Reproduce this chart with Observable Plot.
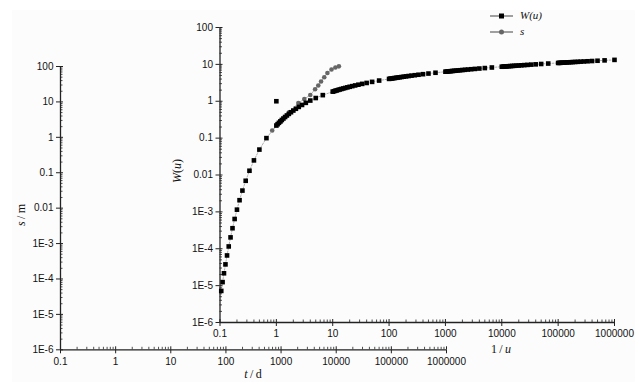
<!DOCTYPE html>
<html><head><meta charset="utf-8">
<script src="https://cdn.jsdelivr.net/npm/d3@7"></script>
<script src="https://cdn.jsdelivr.net/npm/@observablehq/plot@0.6"></script>
<style>
body{margin:0;background:#fff;}
#wrap{position:relative;width:639px;height:384px;overflow:hidden;background:#fff;}
#panel{position:absolute;left:12px;top:10px;width:623px;height:372px;background:#fcfcfc;}
#wrap svg.plot{position:absolute;left:0;top:0;background:transparent;}
.t{position:absolute;font-family:"Liberation Serif","DejaVu Serif",serif;font-size:12px;color:#111;white-space:nowrap;transform:translate(-50%,-50%);}
.lg{position:absolute;font-family:"Liberation Serif","DejaVu Serif",serif;font-size:11px;font-style:italic;color:#111;white-space:nowrap;}
</style></head><body><div id="wrap"><div id="panel"></div></div>
<script>
// ---- W(u) type curve (inner axes: 1/u vs W(u)) ----
const uValues = [
  9.5,9,8.5,8,7.5,7,6.5,6,5.5,5,4.5,4,3.5,3,2.5,2,1.5,1,
  0.95,0.9,0.85,0.8,0.75,0.7,0.65,0.6,0.55,0.5,0.45,0.4,0.35,0.3,0.25,0.2,0.15,0.1,
  0.095,0.09,0.085,0.08,0.075,0.07,0.065,0.06,0.055,0.05,0.045,0.04,0.035,0.03,0.025,0.02,0.015,0.01,
  0.0095,0.009,0.0085,0.008,0.0075,0.007,0.0065,0.006,0.0055,0.005,0.0045,0.004,0.0035,0.003,0.0025,0.002,0.0015,0.001,
  9.5e-4,9e-4,8.5e-4,8e-4,7.5e-4,7e-4,6.5e-4,6e-4,5.5e-4,5e-4,4.5e-4,4e-4,3.5e-4,3e-4,2.5e-4,2e-4,1.5e-4,1e-4,
  9.5e-5,9e-5,8.5e-5,8e-5,7.5e-5,7e-5,6.5e-5,6e-5,5.5e-5,5e-5,4.5e-5,4e-5,3.5e-5,3e-5,2.5e-5,2e-5,1.5e-5,1e-5,
  9.5e-6,9e-6,8.5e-6,8e-6,7.5e-6,7e-6,6.5e-6,6e-6,5.5e-6,5e-6,4.5e-6,4e-6,3.5e-6,3e-6,2.5e-6,2e-6,1.5e-6,1e-6
];
const wValues = [
  7.185e-6,1.245e-5,2.162e-5,3.767e-5,6.583e-5,1.155e-4,2.034e-4,3.601e-4,6.409e-4,1.148e-3,2.073e-3,3.779e-3,6.970e-3,1.305e-2,2.491e-2,4.890e-2,0.1000,0.2194,
  0.2387,0.2602,0.2840,0.3106,0.3403,0.3738,0.4115,0.4544,0.5034,0.5598,0.6253,0.7024,0.7942,0.9057,1.0443,1.2227,1.4645,1.8229,
  1.8694,1.9187,1.9711,2.0269,2.0867,2.1508,2.2201,2.2953,2.3775,2.4679,2.5684,2.6813,2.8099,2.9591,3.1365,3.3547,3.6374,4.0379,
  4.0887,4.1423,4.1990,4.2591,4.3231,4.3916,4.4652,4.5448,4.6313,4.7261,4.8309,4.9482,5.0813,5.2349,5.4167,5.6394,5.9266,6.3315,
  6.3818,6.4359,6.4931,6.5537,6.6182,6.6872,6.7613,6.8414,6.9284,7.0237,7.1290,7.2468,7.3804,7.5345,7.7168,7.9400,8.2277,8.6332,
  8.6845,8.7386,8.7957,8.8563,8.9208,8.9898,9.0639,9.1440,9.2310,9.3263,9.4317,9.5495,9.6830,9.8371,10.0194,10.2426,10.5303,10.9357,
  10.9871,11.0411,11.0982,11.1589,11.2234,11.2924,11.3665,11.4465,11.5336,11.6289,11.7342,11.8520,11.9855,12.1397,12.3220,12.5451,12.8329,13.2383
];
// stray point in W(u) series
const strayInvU = [1];
const strayW = [1];

// ---- observed drawdown (outer axes: t/d vs s/m) ----
const sTime = [690, 990, 1400, 2060, 2640, 3390, 4140, 4730, 5310, 6070, 6930, 8220, 9670, 11190];
const sDraw = [1.56, 2.79, 5.12, 9.3, 12.1, 15.7, 22.7, 29.0, 37.7, 49.5, 65.5, 82.2, 93.7, 101];

// ---- ticks ----
const yTicks = [1e-6,1e-5,1e-4,1e-3,0.01,0.1,1,10,100];
const yTickLabels = ["1E-6","1E-5","1E-4","1E-3","0.01","0.1","1","10","100"];
const xTicks = [0.1,1,10,100,1000,10000,100000,1000000];
const xTickLabels = ["0.1","1","10","100","1000","10000","100000","1000000"];

const minor = (majors) => majors.slice(0,-1).flatMap(d => [2,3,4,5,6,7,8,9].map(k => k*d));
const yMinor = minor(yTicks), xMinor = minor(xTicks);

const wData = uValues.map((u,i) => ({inv: 1/u, w: wValues[i]}));
const strayData = strayInvU.map((x,i) => ({inv: x, w: strayW[i]}));
const sData = sTime.map((t,i) => ({t, s: sDraw[i]}));

const axisColor = "#222";
const font = "Liberation Sans, Arial, sans-serif";

function axes(pad) {
  return [
    Plot.axisY(yTicks, {anchor:"left", tickSize:4, tickPadding:3, stroke:axisColor, fill:"#111",
      tickFormat: d => yTickLabels[yTicks.indexOf(d)], fontSize:10, fontFamily:font, label:null}),
    Plot.axisY(yTicks, {anchor:"left", tickSize:3, dx:3, stroke:axisColor, tickFormat: () => "", label:null}),
    Plot.axisY(yMinor, {anchor:"left", tickSize:2.5, dx:2.5, stroke:axisColor, strokeWidth:0.8, tickFormat: () => "", label:null}),
    Plot.axisX(xTicks, {anchor:"bottom", tickSize:4, tickPadding:pad, stroke:axisColor, fill:"#111",
      tickFormat: d => xTickLabels[xTicks.indexOf(d)], fontSize:10, fontFamily:font, label:null}),
    Plot.axisX(xTicks, {anchor:"bottom", tickSize:3, dy:-3, stroke:axisColor, tickFormat: () => "", label:null}),
    Plot.axisX(xMinor, {anchor:"bottom", tickSize:2.5, dy:-2.5, stroke:axisColor, strokeWidth:0.8, tickFormat: () => "", label:null}),
    Plot.ruleX([0.1], {stroke:axisColor, strokeWidth:1.3}),
    Plot.ruleY([1e-6], {stroke:axisColor, strokeWidth:1.3})
  ];
}

const outer = Plot.plot({
  width: 639, height: 384,
  marginLeft: 60, marginRight: 193, marginTop: 66, marginBottom: 34.7,
  x: {type:"log", domain:[0.1, 1e6]},
  y: {type:"log", domain:[1e-6, 100]},
  style: {background:"transparent", overflow:"visible"},
  marks: [
    ...axes(4),
    Plot.line(sData, {x:"t", y:"s", stroke:"#888", strokeWidth:0.6}),
    Plot.dot(sData, {x:"t", y:"s", r:2.3, fill:"#666", stroke:"none"})
  ]
});

const inner = Plot.plot({
  width: 639, height: 384,
  marginLeft: 219.5, marginRight: 25, marginTop: 27, marginBottom: 62,
  x: {type:"log", domain:[0.1, 1e6]},
  y: {type:"log", domain:[1e-6, 100]},
  style: {background:"transparent", overflow:"visible"},
  marks: [
    ...axes(3),
    Plot.line(wData, {x:"inv", y:"w", stroke:"#777", strokeWidth:0.6, strokeDasharray:"1.5,1.5"}),
    Plot.dot(wData, {x:"inv", y:"w", symbol:"square", r:2.6, fill:"#000", stroke:"none"}),
    Plot.dot(strayData, {x:"inv", y:"w", symbol:"square", r:2.6, fill:"#000", stroke:"none"})
  ]
});

const wrap = document.getElementById("wrap");
outer.classList.add("plot"); inner.classList.add("plot");
wrap.appendChild(outer);
wrap.appendChild(inner);

function addText(html, x, y, rotate) {
  const d = document.createElement("div");
  d.className = "t";
  d.innerHTML = html;
  d.style.left = x + "px"; d.style.top = y + "px";
  if (rotate) d.style.transform = "translate(-50%,-50%) rotate(-90deg)";
  wrap.appendChild(d);
}
addText("<i>s</i>&thinsp;/&thinsp;m", 21, 215, true);
addText("<i>t</i>&thinsp;/&thinsp;d", 253, 374, false);
addText("<i>W</i>(<i>u</i>)", 177, 171, true);
addText("1&thinsp;/&thinsp;<i>u</i>", 501, 349, false);

// legend
const legendItems = [
  {label:"W(u)", symbol:"square", color:"#000", y:16},
  {label:"s", symbol:"circle", color:"#666", y:32}
];
legendItems.forEach(it => {
  const ns = "http://www.w3.org/2000/svg";
  const svg = document.createElementNS(ns, "svg");
  svg.setAttribute("width", 26); svg.setAttribute("height", 10);
  svg.style.position = "absolute"; svg.style.left = "489px"; svg.style.top = (it.y - 5) + "px";
  const ln = document.createElementNS(ns, "line");
  ln.setAttribute("x1", 1); ln.setAttribute("x2", 24); ln.setAttribute("y1", 5); ln.setAttribute("y2", 5);
  ln.setAttribute("stroke", "#444"); ln.setAttribute("stroke-width", 1);
  svg.appendChild(ln);
  if (it.symbol === "square") {
    const r = document.createElementNS(ns, "rect");
    r.setAttribute("x", 10); r.setAttribute("y", 2.5); r.setAttribute("width", 5); r.setAttribute("height", 5);
    r.setAttribute("fill", it.color); svg.appendChild(r);
  } else {
    const c = document.createElementNS(ns, "circle");
    c.setAttribute("cx", 12.5); c.setAttribute("cy", 5); c.setAttribute("r", 2.5);
    c.setAttribute("fill", it.color); svg.appendChild(c);
  }
  wrap.appendChild(svg);
  const t = document.createElement("div");
  t.className = "lg";
  t.textContent = it.label;
  t.style.left = "520px"; t.style.top = (it.y - 7) + "px";
  wrap.appendChild(t);
});
</script></body></html>
